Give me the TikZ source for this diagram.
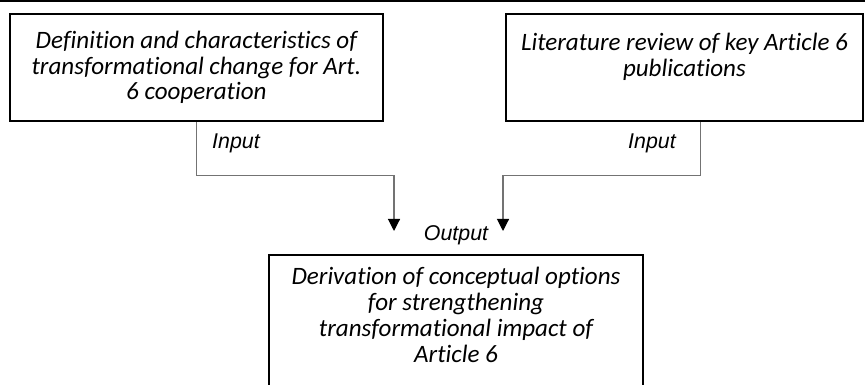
\documentclass[tikz,border=0pt]{standalone}
\usepackage{fontspec}
\setmainfont{Carlito}[Ligatures=NoCommon]
\newfontfamily\lblfont{Liberation Sans}
\usepackage{tikz}
\usetikzlibrary{arrows.meta,positioning,calc}

\begin{document}
\begin{tikzpicture}[
  box/.style={rectangle, draw, line width=1.3pt, align=center, font=\fontsize{17.8}{18.4}\selectfont\itshape},
  arrow/.style={-{Triangle[length=3mm, width=3mm, color=black, fill=black]}, draw=black!55, line width=0.8pt},
  tag/.style={font=\lblfont\fontsize{15.2}{17}\selectfont\itshape}
]
\useasboundingbox (0,0) rectangle (21.625,9.625);
\clip (0,0) rectangle (21.625,9.625);
\draw[line width=1.5pt] (0,9.6) -- (21.625,9.6);
\node[box, minimum width=9.33cm, minimum height=2.68cm] (defn) at (4.91,7.94) {Definition and characteristics of\\ transformational change for Art.\\ 6 cooperation};
\node[box, minimum width=8.93cm, minimum height=2.68cm] (lit) at (17.11,7.94) {Literature review of key Article 6\\ publications\\ ~};
\node[box, minimum width=9.35cm, inner ysep=0.31cm, anchor=north] (out) at (11.4,3.275) {Derivation of conceptual options\\ for strengthening\\ transformational impact of\\ Article 6\\ ~};
\coordinate (ltip) at (9.85,3.85);
\coordinate (rtip) at (12.575,3.85);
\draw[arrow] (defn.south) -- ++(0,-1.35) -| (ltip);
\draw[arrow] ([xshift=4.1mm]lit.south) -- ++(0,-1.35) -| (rtip);
\node[tag] (inl) at (5.9,6.05) {Input};
\node[tag] (inr) at (16.3,6.05) {Input};
\node[tag] (outl) at (11.4,3.75) {Output};
\end{tikzpicture}
\end{document}
